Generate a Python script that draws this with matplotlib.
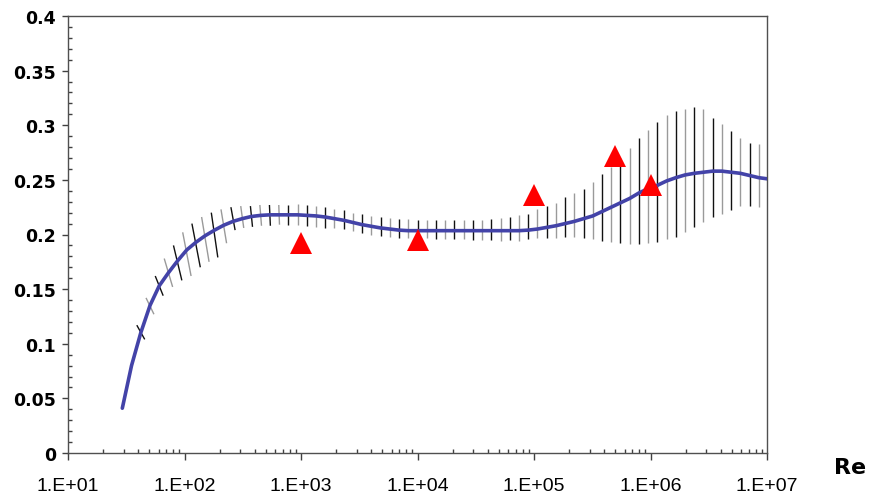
import numpy as np
import matplotlib
matplotlib.use("Agg")
import matplotlib.pyplot as plt
from matplotlib.collections import LineCollection
from matplotlib.ticker import FixedLocator, MultipleLocator, FixedFormatter

# ---------------- data ----------------
# sampling grid: Re = 1e4 * 1.2**k
curve_k = np.arange(-32, 38)
curve_vals = [
    0.041, 0.080, 0.110, 0.135, 0.153, 0.165, 0.176, 0.186, 0.193, 0.199,
    0.204, 0.2085, 0.212, 0.2145, 0.2165, 0.2175, 0.218, 0.218, 0.218, 0.218,
    0.2175, 0.217, 0.216, 0.2145, 0.213, 0.211, 0.209, 0.2075, 0.206, 0.205,
    0.204, 0.2035, 0.2035, 0.2035, 0.2035, 0.2035, 0.2035, 0.2035, 0.2035, 0.2035,
    0.2035, 0.2035, 0.2035, 0.2035, 0.204, 0.205, 0.2065, 0.208, 0.210, 0.212,
    0.2145, 0.217, 0.221, 0.225, 0.229, 0.233, 0.238, 0.242, 0.245, 0.249,
    0.252, 0.2545, 0.256, 0.257, 0.258, 0.258, 0.257, 0.256, 0.254, 0.252,
]
curve_end_re = 1e7
curve_end_val = 0.251

bar_k = np.arange(-30, 38)
bar_hi = [
    0.117, 0.142, 0.162, 0.178, 0.190, 0.202, 0.210, 0.216, 0.220, 0.223,
    0.225, 0.226, 0.226, 0.227, 0.227, 0.227, 0.227, 0.228, 0.227, 0.226,
    0.225, 0.223, 0.222, 0.220, 0.219, 0.217, 0.216, 0.215, 0.214, 0.214,
    0.213, 0.213, 0.213, 0.213, 0.213, 0.213, 0.213, 0.213, 0.214, 0.215,
    0.216, 0.218, 0.219, 0.223, 0.226, 0.229, 0.234, 0.238, 0.242, 0.248,
    0.255, 0.262, 0.270, 0.279, 0.288, 0.296, 0.303, 0.309, 0.313, 0.315,
    0.317, 0.315, 0.307, 0.301, 0.295, 0.288, 0.284, 0.283,
]
bar_lo = [
    0.104, 0.127, 0.144, 0.152, 0.158, 0.162, 0.170, 0.175, 0.179, 0.192,
    0.204, 0.206, 0.207, 0.208, 0.208, 0.209, 0.209, 0.209, 0.208, 0.207,
    0.206, 0.206, 0.205, 0.203, 0.201, 0.200, 0.199, 0.198, 0.197, 0.197,
    0.196, 0.197, 0.196, 0.196, 0.196, 0.196, 0.195, 0.195, 0.195, 0.194,
    0.195, 0.194, 0.196, 0.197, 0.197, 0.197, 0.198, 0.198, 0.197, 0.196,
    0.194, 0.193, 0.192, 0.191, 0.191, 0.192, 0.193, 0.196, 0.198, 0.202,
    0.207, 0.211, 0.216, 0.219, 0.222, 0.226, 0.226, 0.225,
]
# slant of the first bars (half offset, in decades)
bar_tilt = [0.034, 0.034, 0.034, 0.036, 0.036, 0.036, 0.036, 0.032, 0.028,
            0.024, 0.018, 0.013, 0.009, 0.007, 0.004, 0.003]

tri_re = [1e3, 1e4, 1e5, 5e5, 1e6]
tri_val = [0.192, 0.195, 0.236, 0.272, 0.245]

xtick_vals = [1e1, 1e2, 1e3, 1e4, 1e5, 1e6, 1e7]
xtick_labels = ["1.E+01", "1.E+02", "1.E+03", "1.E+04", "1.E+05", "1.E+06", "1.E+07"]
ytick_vals = [0, 0.05, 0.1, 0.15, 0.2, 0.25, 0.3, 0.35, 0.4]
ytick_labels = ["0", "0.05", "0.1", "0.15", "0.2", "0.25", "0.3", "0.35", "0.4"]

# ---------------- figure ----------------
W, H = 872, 502
fig = plt.figure(figsize=(W / 100, H / 100), dpi=100)
ax = fig.add_axes([68 / W, 1 - 454 / H, (767 - 68) / W, (454 - 17) / H])

curve_re = np.append(1e4 * 1.2 ** curve_k.astype(float), curve_end_re)
curve_y = np.append(curve_vals, curve_end_val)

bar_re = 1e4 * 1.2 ** bar_k.astype(float)
tilt = np.zeros(len(bar_re))
tilt[:len(bar_tilt)] = bar_tilt
segs = []
cols = []
for i, (r, hi, lo) in enumerate(zip(bar_re, bar_hi, bar_lo)):
    segs.append([(r * 10 ** (-tilt[i]), hi), (r * 10 ** (tilt[i]), lo)])
    cols.append("#111111" if i % 2 == 0 else "#9a9a9a")
lc = LineCollection(segs, colors=cols, linewidths=1.0, zorder=2)
ax.add_collection(lc)

ax.plot(curve_re, curve_y, color="#4343a8", lw=2.6, zorder=3,
        solid_capstyle="round")
ax.plot(tri_re, tri_val, linestyle="none", marker="^", markersize=16,
        color="#ff0000", markeredgewidth=0, zorder=4)

ax.set_xscale("log")
ax.set_xlim(1e1, 1e7)
ax.set_ylim(0, 0.4)

ax.xaxis.set_major_locator(FixedLocator(xtick_vals))
ax.xaxis.set_major_formatter(FixedFormatter(xtick_labels))
minor_x = [m * 10.0 ** d for d in range(1, 7) for m in range(2, 10)]
ax.xaxis.set_minor_locator(FixedLocator(minor_x))
ax.yaxis.set_major_locator(FixedLocator(ytick_vals))
ax.yaxis.set_major_formatter(FixedFormatter(ytick_labels))
ax.yaxis.set_minor_locator(MultipleLocator(0.01))

ax.tick_params(axis="x", which="major", direction="out", length=5, width=1,
               color="#404040", pad=12, labelsize=14)
ax.tick_params(axis="x", which="minor", direction="in", length=3, width=1,
               color="#404040")
ax.tick_params(axis="y", which="major", direction="out", length=4.5, width=1,
               color="#404040", pad=4, labelsize=12.5)
ax.tick_params(axis="y", which="minor", direction="in", length=3, width=1,
               color="#404040")
for lab in ax.get_xticklabels():
    lab.set_fontfamily("Liberation Sans")
for lab in ax.get_yticklabels():
    lab.set_fontfamily("DejaVu Sans")
    lab.set_fontweight("bold")

for s in ax.spines.values():
    s.set_color("#505050")
    s.set_linewidth(1.0)

fig.text(850 / W, 1 - 468 / H, "Re", ha="center", va="center",
         fontsize=16, fontweight="bold", family="DejaVu Sans")

fig.savefig("out.png", dpi=100, facecolor="white")
